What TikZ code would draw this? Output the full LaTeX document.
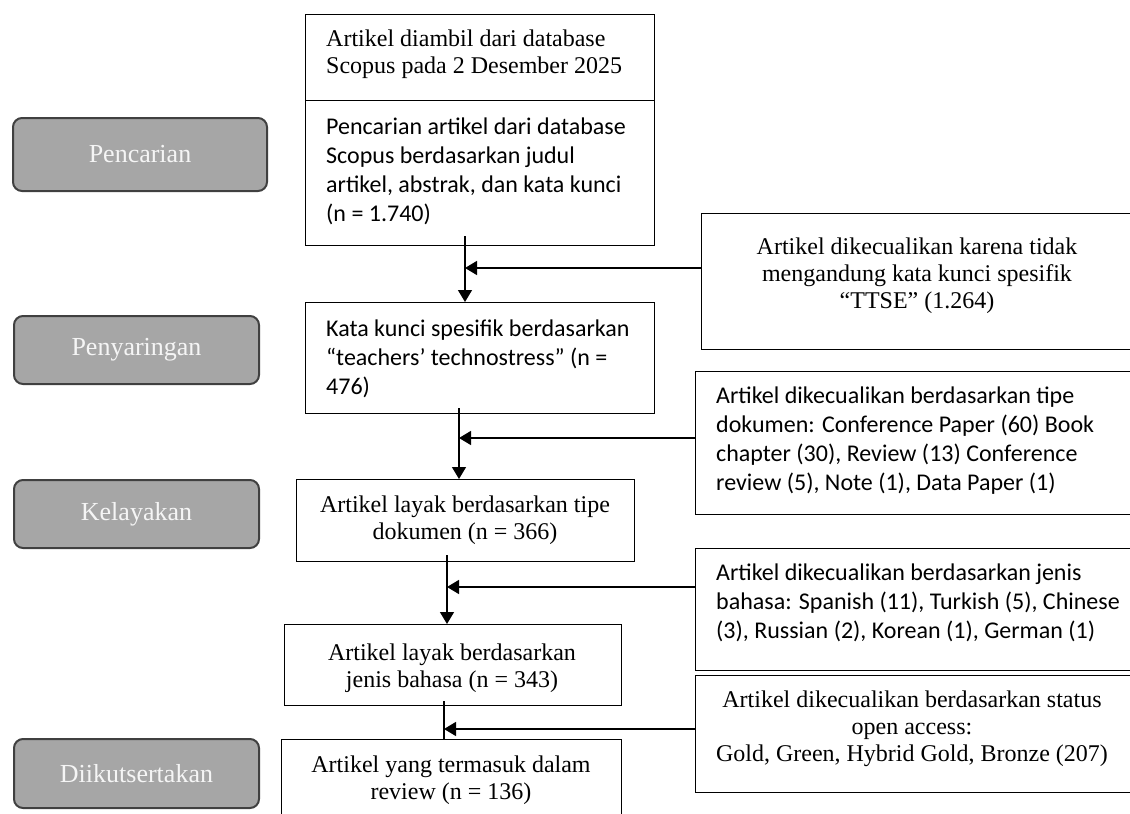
\documentclass[tikz,border=0pt]{standalone}
\usepackage{fontspec}
\setmainfont{Liberation Serif}
\newfontfamily\calfont{Carlito}
\usetikzlibrary{arrows.meta,calc}
\definecolor{phasefill}{HTML}{A6A6A6}
\definecolor{phaseline}{HTML}{404040}
\definecolor{phasetxt}{HTML}{F5F5F5}
\begin{document}
\begin{tikzpicture}[x=1pt,y=-1pt,
  frame/.style={draw=black,line width=1.3pt,anchor=north west,inner sep=0pt},
  phase/.style={draw=phaseline,line width=2pt,fill=phasefill,rounded corners=9pt,anchor=north west,inner sep=0pt},
  phasetext/.style={text=phasetxt,font=\fontsize{26}{30}\selectfont,inner sep=0pt},
  tms/.style={font=\fontsize{24}{27}\selectfont,inner sep=0pt},
  cal/.style={font=\calfont\fontsize{24}{29}\selectfont,inner sep=0pt},
  conn/.style={line width=1.3pt},
  arr/.style={conn,-{Triangle[length=12pt,width=14pt]}}
]
\useasboundingbox (0,0) rectangle (1130,814);
\clip (0,0) rectangle (1130,814);

% phase labels
\node[phase,minimum width=254pt,minimum height=73pt] (g1) at (12,117) {};
\node[phasetext] (g1t) at (g1.center) {Pencarian};
\node[phase,minimum width=245pt,minimum height=68pt] (g2) at (13,315) {};
\node[phasetext] (g2t) at (g2.center) {Penyaringan};
\node[phase,minimum width=245pt,minimum height=68pt] (g3) at (13,479) {};
\node[phasetext] (g3t) at (g3.center) {Kelayakan};
\node[phase,minimum width=245pt,minimum height=69pt] (g4) at (13,738) {};
\node[phasetext] (g4t) at (g4.center) {Diikutsertakan};

% main column (text nodes anchored at the baseline of their last line)
\node[frame,minimum width=349pt,minimum height=86pt] (b1a) at (305,14) {};
\node[tms,anchor=base west,align=left] (t1a) at (326,73.5) {Artikel diambil dari database\\Scopus pada 2 Desember 2025};
\node[frame,minimum width=349pt,minimum height=145pt] (b1b) at (305,100) {};
\node[cal,anchor=base west,align=left] (t1b) at (326,221) {Pencarian artikel dari database\\Scopus berdasarkan judul\\artikel, abstrak, dan kata kunci\\(n = 1.740)};

\node[frame,minimum width=349pt,minimum height=111pt] (b2) at (305,302) {};
\node[cal,anchor=base west,align=left] (t2) at (326,394) {Kata kunci spesifik berdasarkan\\“teachers’ technostress” (n =\\476)};

\node[frame,minimum width=338pt,minimum height=82pt] (b3) at (296,479) {};
\node[tms,anchor=base,align=center] (t3) at (465,539) {Artikel layak berdasarkan tipe\\dokumen (n = 366)};

\node[frame,minimum width=337pt,minimum height=81pt] (b4) at (284,624) {};
\node[tms,anchor=base,align=center] (t4) at (452,687) {Artikel layak berdasarkan\\jenis bahasa (n = 343)};

\node[frame,minimum width=340pt,minimum height=100pt] (b5) at (281,739) {};
\node[tms,anchor=base,align=center] (t5) at (451,799) {Artikel yang termasuk dalam\\review (n = 136)};

% exclusion column
\node[frame,minimum width=434pt,minimum height=136pt] (r1) at (701,213) {};
\node[tms,anchor=base,align=center] (tr1) at (917,308) {Artikel dikecualikan karena tidak\\mengandung kata kunci spesifik\\“TTSE” (1.264)};

\node[frame,minimum width=440pt,minimum height=143pt] (r2) at (695,371) {};
\node[cal,anchor=base west,align=left] (tr2) at (716,490) {Artikel dikecualikan berdasarkan tipe\\dokumen: Conference Paper (60) Book\\chapter (30), Review (13) Conference\\review (5), Note (1), Data Paper (1)};

\node[frame,minimum width=440pt,minimum height=122pt] (r3) at (695,548) {};
\node[cal,anchor=base west,align=left] (tr3) at (716,638) {Artikel dikecualikan berdasarkan jenis\\bahasa: Spanish (11), Turkish (5), Chinese\\(3), Russian (2), Korean (1), German (1)};

\node[frame,minimum width=440pt,minimum height=117pt] (r4) at (695,675) {};
\node[tms,anchor=base,align=center] (tr4) at (912,761) {Artikel dikecualikan berdasarkan status\\open access:\\Gold, Green, Hybrid Gold, Bronze (207)};

% connectors
\coordinate (s1) at (465,236);
\coordinate (m1) at (465,268);
\draw[arr] (s1) -- (s1 |- b2.north);
\draw[arr] (r1.west |- m1) -- (m1);

\coordinate (s2) at (459,408);
\coordinate (m2) at (459,438);
\draw[arr] (s2) -- (s2 |- b3.north);
\draw[arr] (r2.west |- m2) -- (m2);

\coordinate (s3) at (447,555);
\coordinate (m3) at (447,587);
\draw[arr] (s3) -- (s3 |- b4.north);
\draw[arr] (r3.west |- m3) -- (m3);

\coordinate (s4) at (444,701);
\coordinate (m4) at (444,729);
\draw[conn] (s4) -- (s4 |- b5.north);
\draw[arr] (r4.west |- m4) -- (m4);
\end{tikzpicture}
\end{document}
